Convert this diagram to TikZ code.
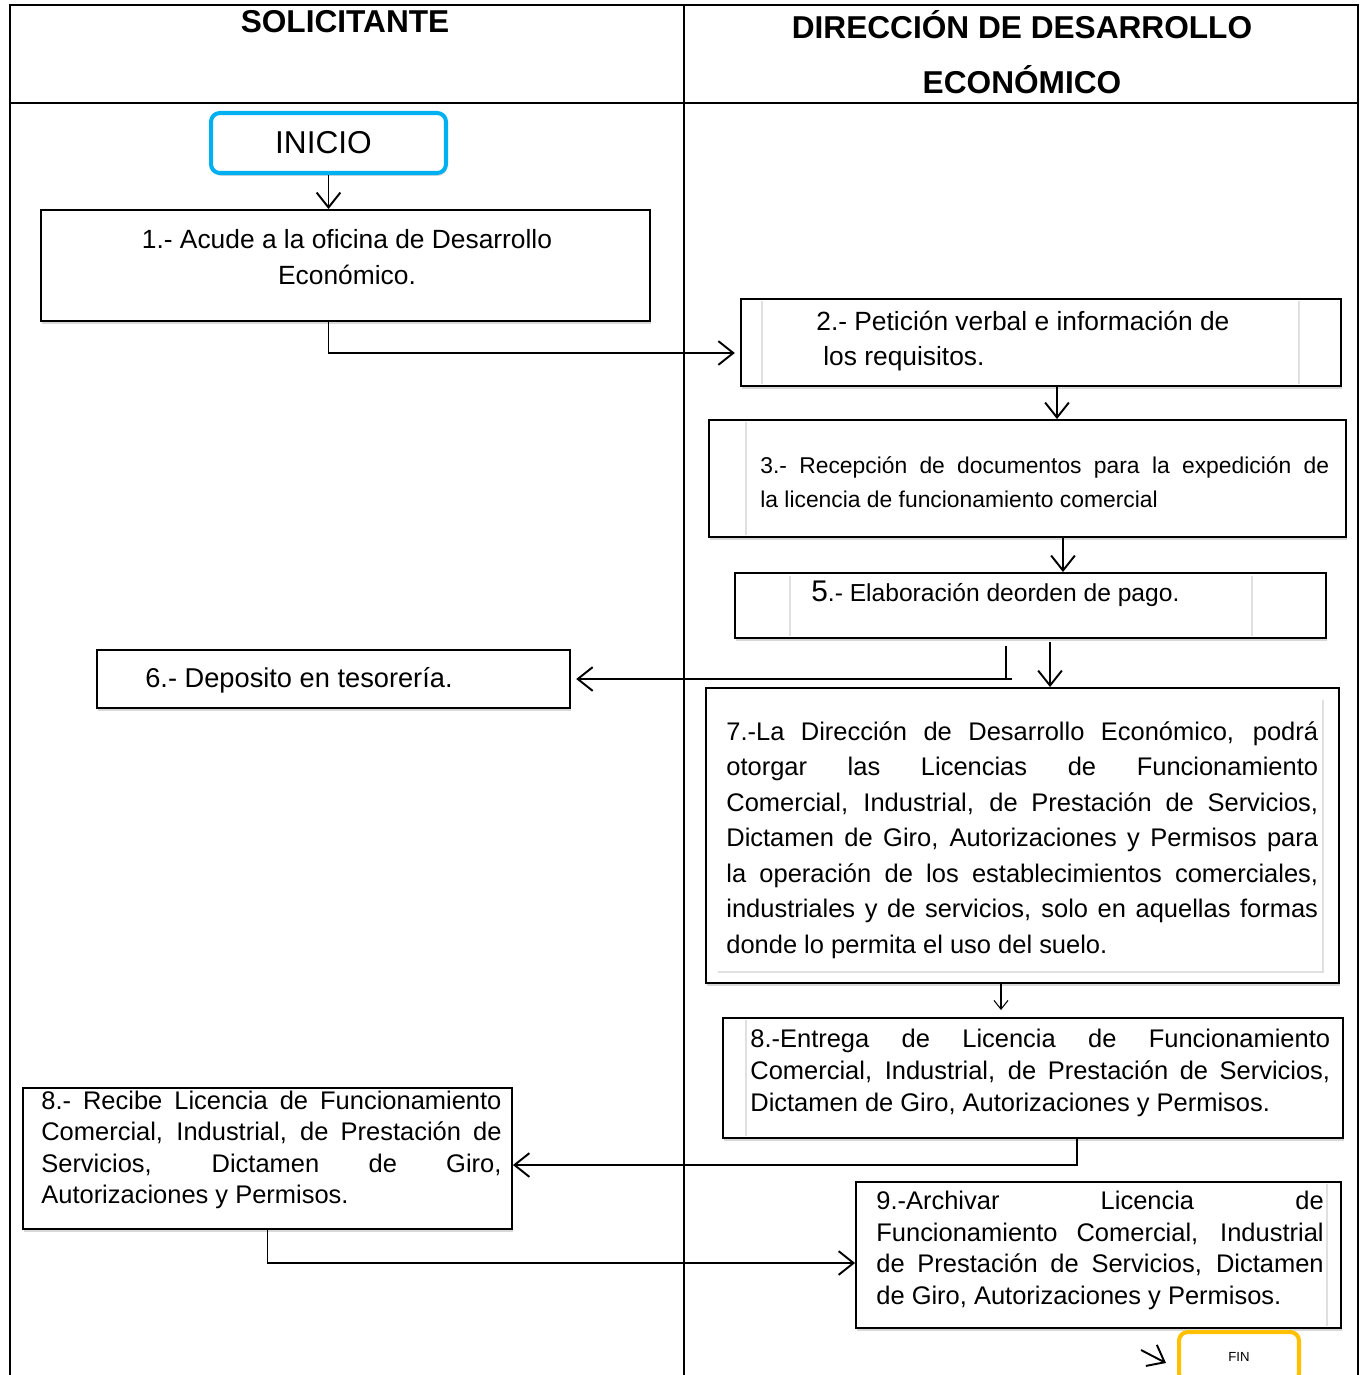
\documentclass[tikz,border=0pt]{standalone}
\usepackage{fontspec}
\setmainfont{Liberation Sans}
\usetikzlibrary{arrows.meta,shadows}
\definecolor{celeste}{RGB}{0,176,240}
\definecolor{ambar}{RGB}{255,192,0}
\newcommand{\tam}[2]{\fontsize{#1}{#2}\selectfont}
\hbadness=10000
\tikzset{
  caja/.style={draw, fill=white, line width=1.1pt, inner sep=0pt,
    drop shadow={shadow xshift=0.6pt, shadow yshift=-1.6pt, opacity=0.3}},
  texto/.style={inner sep=0pt, align=justify},
  inicio/.style={draw=celeste, fill=white, line width=2.3pt, rounded corners=5pt,
    minimum width=4.7cm, minimum height=1.2cm, inner sep=0pt, font=\tam{18}{18},
    drop shadow={shadow xshift=0.6pt, shadow yshift=-1.6pt, opacity=0.3}},
  final/.style={draw=ambar, fill=white, line width=2.3pt, rounded corners=5pt,
    minimum width=2.4cm, minimum height=1cm, inner sep=0pt, font=\tam{7.5}{9}},
  flecha/.style={line width=1.1pt, -{Straight Barb[length=8.5pt,width=13.5pt,line width=1.1pt]}},
  flechita/.style={line width=0.6pt, -{Straight Barb[length=5pt,width=8pt,line width=0.6pt]}},
  linea/.style={line width=1pt},
  carril/.style={line width=0.6pt},
  tenue/.style={draw=black!12, line width=1.2pt},
}

\begin{document}
\begin{tikzpicture}[x=0.02cm, y=-0.02cm]
\useasboundingbox (0,0) rectangle (1364,1375);
\clip (0,0) rectangle (1364,1375);
\fill[white] (0,0) rectangle (1364,1375);
% carriles
\draw[carril] (10,1385) -- (10,5) -- (1358,5) -- (1358,1385);
\draw[carril] (10,103) -- (1358,103);
\draw[carril] (684,5) -- (684,1385);
\node[font=\bfseries\tam{18}{18}] (solicitante) at (345,22) {SOLICITANTE};
\node[font=\bfseries\tam{18}{31.7}, align=center] (direccion) at (1022,52) {DIRECCIÓN DE DESARROLLO\\ECONÓMICO};
% cajas
\node[inicio] (inicio) at (328.5,143) {\hspace*{-0.2cm}INICIO};
\node[caja, minimum width=12.18cm, minimum height=2.22cm] (p1) at (345.5,265.5) {};
\node[caja, minimum width=12cm, minimum height=1.74cm] (p2) at (1041,342.5) {};
\node[caja, minimum width=12.74cm, minimum height=2.34cm] (p3) at (1027.5,478.5) {};
\node[caja, minimum width=11.82cm, minimum height=1.3cm] (p5) at (1030.5,605.5) {};
\node[caja, minimum width=9.46cm, minimum height=1.16cm] (p6) at (333.5,679) {};
\node[caja, minimum width=12.66cm, minimum height=5.9cm] (p7) at (1022.5,835.5) {};
\node[caja, minimum width=12.4cm, minimum height=2.4cm] (p8e) at (1033,1078) {};
\node[caja, minimum width=9.78cm, minimum height=2.82cm] (p8r) at (267.5,1158.5) {};
\node[caja, minimum width=9.7cm, minimum height=2.92cm] (p9) at (1098.5,1255) {};
\node[final] (fin) at (1239,1357) {FIN};
% bordes tenues
\draw[tenue] (762,301) -- (762,384) (1299,301) -- (1299,384);
\draw[tenue] (746,422) -- (746,535);
\draw[tenue] (790,576) -- (790,636) (1252,576) -- (1252,636);
\draw[tenue] (718,972) -- (1323,972) -- (1323,700);
\draw[tenue] (746,1020) -- (746,1136);
\draw[tenue] (1327,1184) -- (1327,1326);
% textos
\node[inner sep=0pt, align=center, font=\tam{15}{20.4}] (t1) at (347,257) {1.- Acude a la oficina de Desarrollo\\Económico.};
\node[inner sep=0pt, align=left, font=\tam{15}{20.4}, anchor=west] (t2) at (816,341) {2.- Petición verbal e información de\\\hspace*{4pt}los requisitos.};
\node[texto, anchor=west, text width=323.7pt, font=\tam{13}{19.3}] (t3) at (760,482) {3.- Recepción de documentos para la expedición de\linebreak la licencia de funcionamiento comercial};
\node[inner sep=0pt, anchor=west, font=\tam{14}{17}] (t5) at (811,594) {{\tam{17}{20}5}.- Elaboración deorden de pago.};
\node[inner sep=0pt, anchor=west, font=\tam{15.5}{18}] (t6) at (145,680) {6.- Deposito en tesorería.};
\node[texto, anchor=west, text width=336.8pt, font=\tam{14.5}{20.2}] (t7) at (726,840) {7.-La Dirección de Desarrollo Económico, podrá\linebreak otorgar las Licencias de Funcionamiento\linebreak Comercial, Industrial, de Prestación de Servicios,\linebreak Dictamen de Giro, Autorizaciones y Permisos para\linebreak la operación de los establecimientos comerciales,\linebreak industriales y de servicios, solo en aquellas formas\linebreak donde lo permita el uso del suelo.};
\node[texto, anchor=west, text width=330pt, font=\tam{14.5}{18.1}] (t8e) at (750,1073) {8.-Entrega de Licencia de Funcionamiento\linebreak Comercial, Industrial, de Prestación de Servicios,\linebreak Dictamen de Giro, Autorizaciones y Permisos.};
\node[texto, anchor=west, text width=261.9pt, font=\tam{14.5}{17.8}] (t8r) at (41,1150) {8.- Recibe Licencia de Funcionamiento\linebreak Comercial, Industrial, de Prestación de\linebreak Servicios, Dictamen de Giro,\linebreak Autorizaciones y Permisos.};
\node[texto, anchor=west, text width=254.6pt, font=\tam{14.5}{18}] (t9) at (876,1250.5) {9.-Archivar Licencia de\linebreak Funcionamiento Comercial, Industrial\linebreak de Prestación de Servicios, Dictamen\linebreak de Giro, Autorizaciones y Permisos.};
% conectores
\draw[flecha] (inicio.south) -- (inicio.south |- p1.north);
\draw[flecha, shorten >=3pt] (p1.south -| inicio.south) |- ([yshift=-0.21cm]p2.west);
\draw[flecha] ([xshift=0.32cm]p2.south) -- ([xshift=0.32cm]p2.south |- p3.north);
\draw[flecha] ([xshift=0.71cm]p3.south) -- ([xshift=0.71cm]p3.south |- p5.north);
\draw[linea] ([xshift=-0.49cm, yshift=-0.14cm]p5.south) -- ([xshift=-0.49cm]p5.south |- p6.east);
\draw[flecha, shorten >=3pt] ([xshift=-0.37cm]p5.south |- p6.east) -- (p6.east);
\draw[flecha] ([xshift=0.39cm, yshift=-0.06cm]p5.south) -- ([xshift=0.39cm]p5.south |- p7.north);
\draw[flechita, shorten >=4pt] ([xshift=-0.43cm]p7.south) -- ([xshift=-0.43cm]p7.south |- p8e.north);
\draw[flecha] ([xshift=0.88cm]p8e.south) |- ([yshift=-0.13cm]p8r.east);
\draw[flecha] (p8r.south) |- ([yshift=-0.16cm]p9.west);
\coordinate (haciafin) at (1141,1350);
\draw[flecha] (haciafin) -- ([shift={(-0.22cm,-0.12cm)}]fin.west);
\end{tikzpicture}
\end{document}
